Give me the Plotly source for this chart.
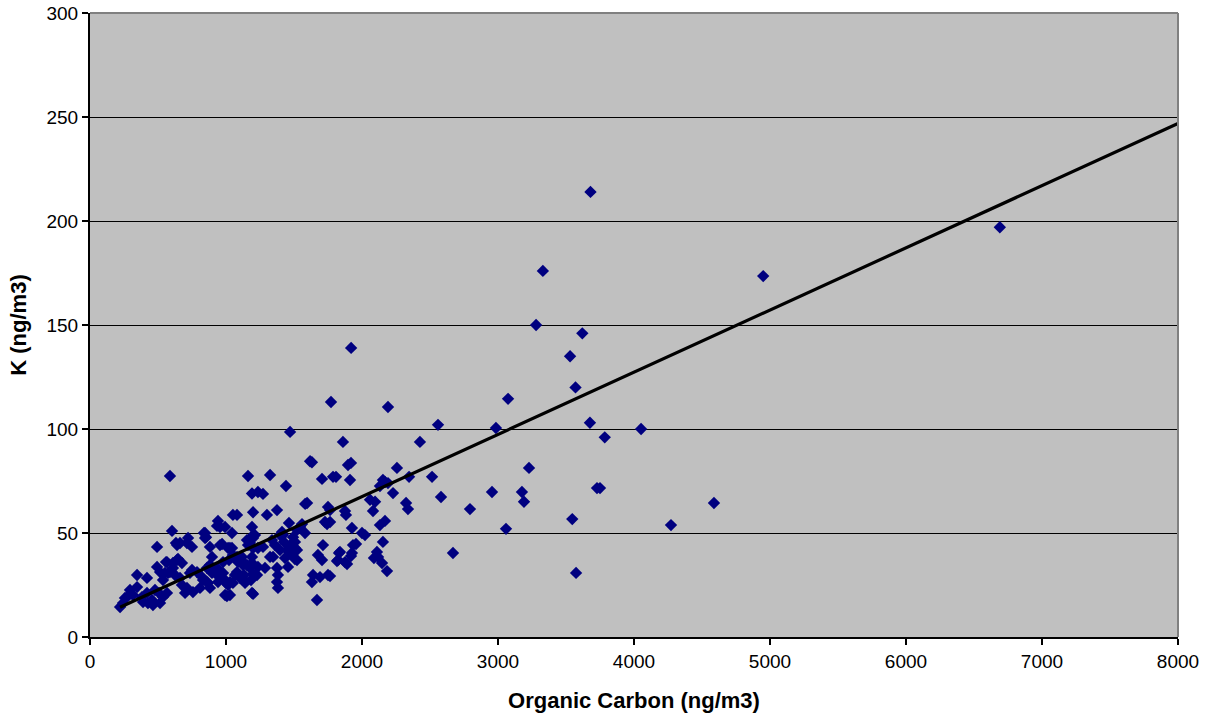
import plotly.graph_objects as go

# Organic Carbon (ng/m3) and K (ng/m3) pairs
organic_carbon = [
    3680, 6690, 4950, 3330, 3280, 3620, 3530, 3570, 1920, 1772, 2191, 3074, 2559, 2985,
    4052, 3676, 3785, 1471, 2426, 1860, 3228, 1897, 1919, 3176, 3191, 2956, 3728, 3750,
    2794, 4272, 4588, 3546, 3059, 3574, 2669, 2581, 2515, 2346, 2324, 2338, 2257, 2228,
    2154, 2169, 2191, 2132, 2059, 2096, 2081, 1912, 1787, 1809, 1765, 1875, 1882, 1765,
    1926, 2000, 2022, 2132, 2169, 2154, 1956, 1831, 1919, 1816, 1890, 2110, 2118, 2088,
    2147, 2184, 1765,
    1632, 1618, 588, 1162, 1324, 1706, 1441, 1191, 1235, 1272, 1596, 1750, 1081, 1199,
    1728, 1743, 1559, 1191, 1044, 1213, 1397, 1419, 1522, 1051,
    603, 846, 941, 956, 993,
    493, 640, 662, 713, 750, 846, 882, 956, 1015, 566, 640, 676, 493, 515, 346, 419, 588,
    625, 662, 735, 787, 824, 882, 934, 978, 1029, 934, 978, 1015, 860, 882, 713, 757, 809,
    993, 294, 316, 382, 419, 390, 257, 243, 221, 456, 463, 515, 537, 566, 346, 676,
    1199, 1176, 1154, 1507, 1507, 1449, 1397, 1346, 1434, 1507, 1456, 1375, 1382, 1375,
    1382, 1287, 1213, 1125, 1081, 1103, 1140, 1051, 1088, 1044, 1199, 1029, 1713, 1676,
    1706, 1838, 1824, 1875, 1926, 1934, 1640, 1691, 1750, 1632, 1669,
    1199, 1235, 1184, 971, 1029, 1022, 1125, 1154, 1066, 1000, 1176, 1118, 978, 1051, 1007,
    941, 897, 860, 831, 868, 750, 699, 647, 610, 574, 551, 537, 559, 507, 478, 426, 272,
    632, 721, 610, 897, 1272, 1338, 1360, 1426, 1471, 1522, 1485, 1324, 1228, 1235, 1522,
    1581, 1544, 1412, 1463, 1493, 1301, 1375, 1582, 1191, 1184, 1199, 1132, 1191, 1191,
    1118, 1162, 1081, 1103, 838, 853, 934,
]
potassium = [
    214, 197, 173.5, 176, 150, 146, 135, 120, 139, 113, 110.6, 114.5, 102, 100.5,
    100, 103, 96, 98.6, 93.8, 93.8, 81.3, 82.7, 83.7, 69.7, 65, 69.7, 71.6, 71.6,
    61.5, 53.8, 64.4, 56.7, 52, 30.8, 40.4, 67.3, 77, 77, 64.4, 61.5, 81.3, 69.2,
    75.5, 74.5, 74, 72.6, 66, 65, 60.6, 75.5, 77, 77, 61, 60.6, 58.7, 55.3,
    52.4, 50, 49, 53.8, 55.8, 45.7, 44.7, 40.4, 38.9, 36.5, 35.1, 40.9, 38.5, 38,
    35.6, 31.7, 29.3,
    84, 84.5, 77.4, 77.4, 77.9, 76, 72.6, 69, 69.7, 68.8, 64.4, 62.5, 58.7, 60,
    55.3, 54.3, 54.3, 52.9, 50, 49, 49, 49, 51.4, 58.7,
    51, 50, 55.8, 52.9, 52.9,
    43.3, 44.2, 45.2, 45.2, 43.3, 47.6, 43.3, 44.2, 42.8, 36, 37, 35.6, 33.7, 31.2, 29.8, 28.4, 31.2,
    29.8, 28.4, 30.8, 31.2, 28.8, 34.6, 33.2, 36, 26.4, 29.8, 28.4, 25, 26.4, 23.6, 23.6, 21.6, 23.6,
    20.2, 22.6, 20.2, 19.2, 21.2, 16.8, 18.8, 16.3, 14.4, 17.8, 15.4, 16.3, 19.2, 21.2, 24, 25,
    47.6, 45.2, 46.6, 45.7, 42.8, 41.8, 41.8, 38.5, 38, 37.5, 33.7, 33.2, 29.8, 26.4,
    23.6, 33.2, 29.8, 34.6, 31.2, 28.4, 26, 39.4, 36, 42.8, 20.7, 20.2, 44.2, 39.4,
    37, 40.9, 37, 36, 40.4, 44.2, 29.8, 28.8, 29.8, 26.4, 17.8,
    42.8, 42.8, 48, 44.7, 42.8, 37, 36, 34.6, 29.8, 26, 33.2, 28.4, 30.8, 26, 19.7,
    26.4, 30.8, 33.2, 27.4, 26, 32.2, 21.2, 37.5, 33.2, 30.8, 30.8, 27.4, 36, 21.2, 22.6, 16.3, 19.2,
    45.2, 47.6, 35.6, 38.5, 43.3, 46.6, 44.2, 45.7, 44.2, 41.8, 39.4, 38.5, 29.8, 33.7, 37,
    50, 52.9, 50.5, 54.8, 48, 58.7, 61, 64, 21.2, 27.4, 30.3, 29.8, 35.6, 38.5,
    38.5, 44.2, 38.5, 38, 50, 48, 53.4,
]

# Linear trendline (extended forward to the axis end)
trend_slope = 0.0299
trend_intercept = 7.7
trend_x = [min(organic_carbon), 8000]
trend_y = [trend_slope * v + trend_intercept for v in trend_x]

x_ticks = [0, 1000, 2000, 3000, 4000, 5000, 6000, 7000, 8000]
y_ticks = [0, 50, 100, 150, 200, 250, 300]

fig = go.Figure()
fig.add_trace(go.Scatter(
    x=organic_carbon, y=potassium, mode="markers",
    marker=dict(symbol="diamond", size=9.5, color="#000080", line=dict(width=0)),
    showlegend=False, hoverinfo="x+y",
))
fig.add_trace(go.Scatter(
    x=trend_x, y=trend_y, mode="lines",
    line=dict(color="black", width=3.2),
    showlegend=False, hoverinfo="skip",
))

font_family = "Liberation Sans, Arial, sans-serif"
fig.update_layout(
    width=1213, height=721,
    margin=dict(l=90, r=35, t=13, b=84, autoexpand=False),
    paper_bgcolor="white",
    plot_bgcolor="#C0C0C0",
    font=dict(family=font_family, size=19, color="black"),
    xaxis=dict(
        range=[0, 8000], tickvals=x_ticks, ticktext=[str(v) for v in x_ticks],
        showgrid=False, zeroline=False, automargin=False,
        showline=True, linecolor="black", linewidth=2,
        ticks="outside", ticklen=6, tickwidth=2, tickcolor="black",
        title=dict(text="<b>Organic Carbon (ng/m3)</b>", font=dict(size=22), standoff=22),
    ),
    yaxis=dict(
        range=[0, 300], tickvals=y_ticks, ticktext=[str(v) for v in y_ticks],
        showgrid=True, gridcolor="black", gridwidth=1, zeroline=False, automargin=False,
        showline=True, linecolor="black", linewidth=2,
        ticks="outside", ticklen=6, tickwidth=2, tickcolor="black",
        title=dict(text="<b>K (ng/m3)</b>", font=dict(size=22), standoff=14),
    ),
    shapes=[
        dict(type="line", xref="paper", yref="paper", x0=0, x1=1, y0=1, y1=1,
             line=dict(color="#808080", width=2)),
        dict(type="line", xref="paper", yref="paper", x0=1, x1=1, y0=0, y1=1,
             line=dict(color="#808080", width=2)),
    ],
)

fig.write_html("out.html")
